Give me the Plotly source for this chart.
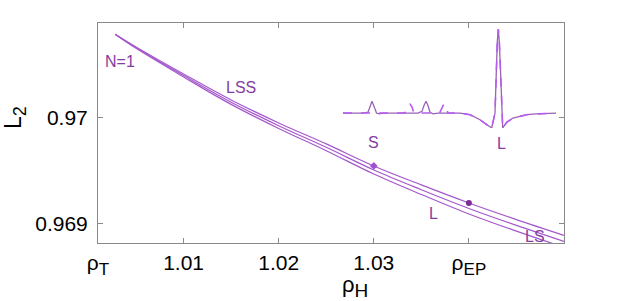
import plotly.graph_objects as go

# ---- main curves data ----
rho = [1.0028, 1.005, 1.01, 1.015, 1.02, 1.025, 1.03, 1.035, 1.04, 1.045, 1.05]
L_top = [0.97079, 0.97067, 0.970415, 0.97017, 0.969953, 0.969755, 0.969547, 0.969368, 0.969198, 0.969041, 0.968892]
L_mid = [0.97079, 0.970663, 0.970401, 0.970149, 0.969927, 0.969723, 0.969509, 0.969323, 0.969146, 0.968986, 0.968835]
L_bot = [0.97079, 0.970657, 0.970387, 0.970128, 0.969901, 0.969691, 0.969471, 0.969278, 0.969094, 0.968932, 0.968779]

diamond_rho = [1.03]
diamond_L = [0.969547]
dot_rho = [1.04]
dot_L = [0.969198]

SUB = "<sub><span style='font-size:17px'>%s</span></sub>"
x_tickvals = [1.001, 1.01, 1.02, 1.03, 1.04]
x_ticktext = ["ρ" + SUB % "T", "1.01", "1.02", "1.03", "ρ" + SUB % "EP"]
y_tickvals = [0.969, 0.97]
y_ticktext = ["0.969", "0.97"]

# ---- inset waveform data ----
t_solid = [0, 20, 25, 27, 29, 31, 33.5, 36, 40, 75, 79, 81, 83, 85, 87, 90, 95, 117, 127, 137, 145,
           148.7, 152, 153, 154.3, 155.3, 156.3, 157.7, 158.7, 159.7, 163.7, 170, 177, 183.7, 193.7, 213]
a_solid = [0, 0, 0.01, 0.08, 0.14, 0.08, 0.0, -0.01, 0, 0, 0.02, 0.09, 0.14, 0.09, 0.01, -0.01, 0, 0, -0.02, -0.08, -0.15,
           -0.178, 0.0, 0.45, 0.85, 1.0, 0.85, 0.45, 0.0, -0.178, -0.11, -0.06, -0.04, -0.02, -0.01, 0]
t_dash = [0, 60, 63, 65, 67, 69, 71, 74, 95, 97, 99, 101, 103, 105, 108, 117, 127, 137, 145,
          148.7, 152, 153, 154.3, 155.3, 156.3, 157.7, 158.7, 159.7, 163.7, 170, 177, 183.7, 193.7, 213]
a_dash = [0, 0, 0.01, 0.07, 0.11, 0.07, 0.0, 0, 0, 0.01, 0.07, 0.11, 0.07, 0.0, 0, 0, -0.02, -0.08, -0.15,
          -0.178, 0.0, 0.45, 0.85, 1.0, 0.85, 0.45, 0.0, -0.178, -0.11, -0.06, -0.04, -0.02, -0.01, 0]

W, H = 623, 301
ML, MR, MT, MB = 98, 59, 23, 58
PW, PH = W - ML - MR, H - MT - MB


def px(x):
    return (x - ML) / PW


def py(y):
    return (H - MB - y) / PH


line_col = "#a458cc"
mark_col = "#7a2e96"
text_col = "#843c9f"
axis_col = "#8a8a8a"
FONT = "Liberation Sans, Arial, sans-serif"

fig = go.Figure()
for L in (L_top, L_mid, L_bot):
    fig.add_trace(go.Scatter(x=rho, y=L, mode="lines", line=dict(color=line_col, width=1.2, shape="spline"),
                             showlegend=False, hoverinfo="skip"))
fig.add_trace(go.Scatter(x=diamond_rho, y=diamond_L, mode="markers",
                         marker=dict(symbol="diamond", size=6, color="#a04fd0"), showlegend=False))
fig.add_trace(go.Scatter(x=dot_rho, y=dot_L, mode="markers",
                         marker=dict(symbol="circle", size=6, color=mark_col), showlegend=False))

# inset
fig.add_trace(go.Scatter(x=t_solid, y=a_solid, mode="lines", xaxis="x2", yaxis="y2",
                         line=dict(color="#9a62b4", width=1.3), showlegend=False))
fig.add_trace(go.Scatter(x=t_dash, y=a_dash, mode="lines", xaxis="x2", yaxis="y2",
                         line=dict(color="#b65cf2", width=1.6, dash="dash"), showlegend=False))

ann = []
def add(text, x, y, size=16, **kw):
    ann.append(dict(text=text, x=px(x), y=py(y), xref="paper", yref="paper", showarrow=False,
                    xanchor="center", yanchor="middle",
                    font=dict(size=size, color=kw.pop("color", text_col), family=FONT), **kw))

add("N=1", 120, 61)
add("LSS", 241, 88)
add("S", 373, 142)
add("L", 433, 213)
add("LS", 535, 236)
add("L", 501, 143)
add("ρ<sub><span style='font-size:19px'>H</span></sub>", 355, 286, size=22, color="#000")
add("L<sub><span style='font-size:18px'>2</span></sub>", 15, 118, size=23, color="#000", textangle=-90)

fig.update_layout(
    width=W, height=H,
    margin=dict(l=ML, r=MR, t=MT, b=MB, autoexpand=False),
    plot_bgcolor="white", paper_bgcolor="white",
    font=dict(family=FONT, size=21, color="#000"),
    annotations=ann,
    xaxis=dict(range=[1.001, 1.05], tickvals=x_tickvals, ticktext=x_ticktext, ticks="inside", ticklen=5,
               tickcolor=axis_col, showline=True, linecolor=axis_col, linewidth=1, mirror="ticks",
               showgrid=False, zeroline=False, ticklabelstandoff=1, automargin=False),
    yaxis=dict(range=[0.96882, 0.970896], tickvals=y_tickvals, ticktext=y_ticktext, ticks="inside", ticklen=5,
               tickcolor=axis_col, showline=True, linecolor=axis_col, linewidth=1, mirror="ticks",
               showgrid=False, zeroline=False, ticklabelstandoff=5, automargin=False),
    xaxis2=dict(domain=[px(343), px(556)], range=[0, 213], visible=False, anchor="y2"),
    yaxis2=dict(domain=[py(128), py(29)], range=[-0.178, 1.0], visible=False, anchor="x2"),
)

fig.write_html("out.html", config={"displayModeBar": False},
               post_script="document.body.style.margin='0';document.body.style.overflow='hidden';")
